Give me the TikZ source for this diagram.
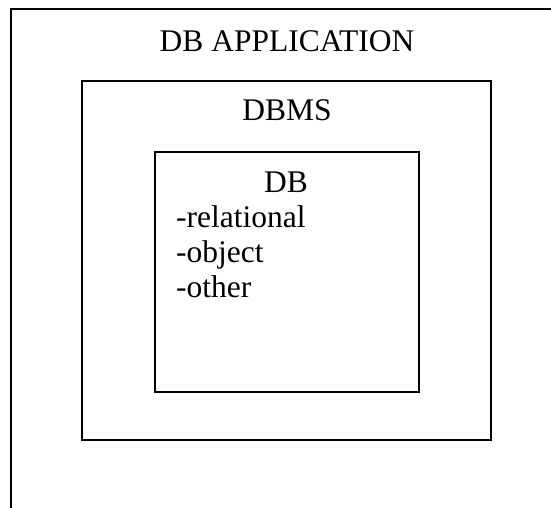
\documentclass[tikz,border=0pt]{standalone}
\usepackage{fontspec}
\setmainfont{Liberation Serif}
\begin{document}
\begin{tikzpicture}[x=1pt,y=1pt,
  boxline/.style={draw=black,line width=1.3pt},
  lbl/.style={font=\fontsize{31.5}{36}\selectfont,inner sep=0pt}]
\useasboundingbox (0,0) rectangle (551,508);
\fill[white] (0,0) rectangle (551,508);
% outer box (open to the right and bottom)
\coordinate (oTL) at (11,499);
\coordinate (oTR) at (551,499);
\coordinate (oBL) at (11,0);
\draw[boxline] (oTR) -- (oTL) -- (oBL);
% middle box
\node[boxline,minimum width=409pt,minimum height=359pt,inner sep=0pt] (dbms) at (286.5,247.5) {};
% inner box
\node[boxline,minimum width=264pt,minimum height=240pt,inner sep=0pt] (db) at (287,236) {};
% texts
\node[lbl,anchor=base] (tapp) at (287,456) {DB APPLICATION};
\node[lbl,anchor=base] (tdbms) at (287,387) {DBMS};
\node[lbl,anchor=base] (tdb) at (286,315) {DB};
\node[lbl,anchor=base west] (t1) at (176,280) {-relational};
\node[lbl,anchor=base west] (t2) at (176,245) {-object};
\node[lbl,anchor=base west] (t3) at (176,210) {-other};
\end{tikzpicture}
\end{document}
